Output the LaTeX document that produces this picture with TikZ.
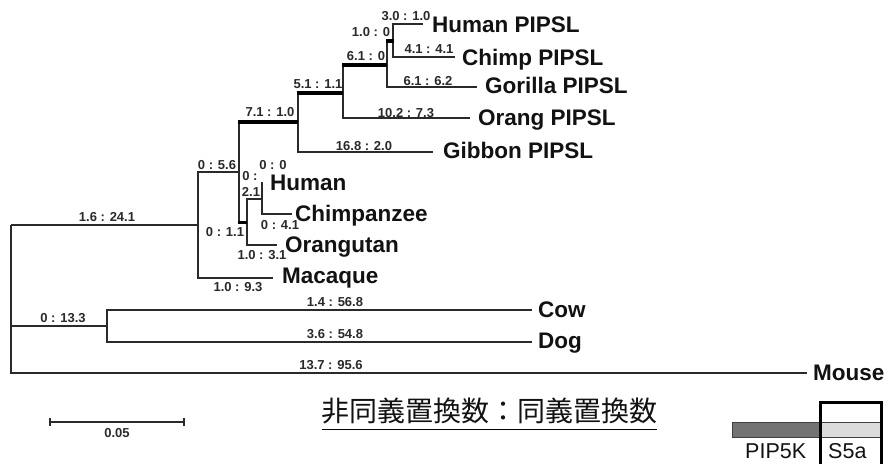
\documentclass[tikz,border=0pt]{standalone}
\usepackage{fontspec}
\setmainfont{Liberation Sans}
\newfontfamily\cjk{Noto Sans CJK JP}
\definecolor{lc}{HTML}{2A2A2A}
\definecolor{txt}{HTML}{121212}
\begin{document}
\begin{tikzpicture}[x=1pt,y=-1pt,
  br/.style={line width=1.5pt, draw=lc},
  thk/.style={line width=4.6pt, draw=black},
  mid/.style={line width=3pt, draw=black},
  bl/.style={font=\fontsize{13}{13}\selectfont\bfseries, text=lc, inner sep=0pt},
  lf/.style={font=\fontsize{22.5}{23}\selectfont\bfseries, anchor=base west, inner sep=0pt, text=txt},
  lg/.style={font=\fontsize{21.5}{22}\selectfont, anchor=base west, inner sep=0pt, text=txt}]
\useasboundingbox[fill=white] (0,0) rectangle (888,463);

% internal nodes (x of vertical, y of parent branch)
\coordinate (root) at (11,225);
\coordinate (G) at (198,225);
\coordinate (CD) at (107,326);
\coordinate (H) at (239,172);
\coordinate (D) at (298,122);
\coordinate (C) at (343,93);
\coordinate (B) at (387,65);
\coordinate (A) at (393,41);
\coordinate (F) at (247,222);
\coordinate (I) at (262,199);
% leaf ends
\coordinate (hP) at (423,24);
\coordinate (cP) at (455,57);
\coordinate (gP) at (477,87);
\coordinate (oP) at (470,118);
\coordinate (gbP) at (433,152);
\coordinate (hu) at (262,182);
\coordinate (ch) at (292,214);
\coordinate (or) at (277,245);
\coordinate (mac) at (273,278);
\coordinate (cow) at (532,310);
\coordinate (dog) at (532,342);
\coordinate (mouse) at (807,373);

% branches
\draw[br] (root) -- (G);
\draw[br] (root) |- (CD);
\draw[br] (root) |- (mouse);
\draw[br] (CD) |- (cow);
\draw[br] (CD) |- (dog);
\draw[br] (G) |- (H);
\draw[br] (G) |- (mac);
\draw[br] (H) |- (D);
\draw[br] (H) |- (F);
\draw[br] (F) |- (I);
\draw[br] (F) |- (or);
\draw[br] (I) |- (hu);
\draw[br] (I) |- (ch);
\draw[br] (D) |- (C);
\draw[br] (D) |- (gbP);
\draw[br] (C) |- (B);
\draw[br] (C) |- (oP);
\draw[br] (B) |- (A);
\draw[br] (B) |- (gP);
\draw[br] (A) |- (hP);
\draw[br] (A) |- (cP);
% thick branches
\draw[thk] ([xshift=-0.75pt]H |- D) -- (D);
\draw[thk] ([xshift=-0.75pt]D |- C) -- (C);
\draw[thk] ([xshift=-0.75pt]C |- B) -- (B);
\draw[thk] ([xshift=-0.75pt]B |- A) -- ([xshift=0.75pt]A);
\draw[mid] ([xshift=-0.75pt]H |- F) -- (F);

% branch labels
\node[bl] (l1) at (406,16) {3.0 : 1.0};
\node[bl] (l2) at (371,32) {1.0 : 0};
\node[bl] (l3) at (429,49) {4.1 : 4.1};
\node[bl] (l4) at (366,56) {6.1 : 0};
\node[bl] (l5) at (428,81) {6.1 : 6.2};
\node[bl] (l6) at (318,84) {5.1 : 1.1};
\node[bl] (l7) at (406,113) {10.2 : 7.3};
\node[bl] (l8) at (270,112) {7.1 : 1.0};
\node[bl] (l9) at (364,146) {16.8 : 2.0};
\node[bl] (l10) at (217,165) {0 : 5.6};
\node[bl] (l11) at (273,165) {0 : 0};
\node[bl] (l12) at (250,176) {0 :};
\node[bl] (l13) at (251,192) {2.1};
\node[bl] (l14) at (280,225) {0 : 4.1};
\node[bl] (l15) at (225,232) {0 : 1.1};
\node[bl] (l16) at (262,255) {1.0 : 3.1};
\node[bl] (l17) at (238,287) {1.0 : 9.3};
\node[bl] (l18) at (107,217) {1.6 : 24.1};
\node[bl] (l19) at (63,318) {0 : 13.3};
\node[bl] (l20) at (335,302) {1.4 : 56.8};
\node[bl] (l21) at (335,334) {3.6 : 54.8};
\node[bl] (l22) at (331,365) {13.7 : 95.6};

% leaf labels
\node[lf] (t1) at (432,32) {Human PIPSL};
\node[lf] (t2) at (462,65) {Chimp PIPSL};
\node[lf] (t3) at (485,93) {Gorilla PIPSL};
\node[lf] (t4) at (478,125) {Orang PIPSL};
\node[lf] (t5) at (443,158) {Gibbon PIPSL};
\node[lf] (t6) at (270,190) {Human};
\node[lf] (t7) at (295,221) {Chimpanzee};
\node[lf] (t8) at (285,252) {Orangutan};
\node[lf] (t9) at (282,283) {Macaque};
\node[lf] (t10) at (538,317) {Cow};
\node[lf] (t11) at (538,348) {Dog};
\node[lf] (t12) at (813,380) {Mouse};

% scale bar
\coordinate (s1) at (50,422);
\coordinate (s2) at (184,422);
\draw[br] (s1) -- (s2);
\draw[br] ([yshift=-4pt]s1) -- ([yshift=4pt]s1);
\draw[br] ([yshift=-4pt]s2) -- ([yshift=4pt]s2);
\node[bl] (sl) at (117,433) {0.05};

% caption
\node[font=\cjk\fontsize{28}{28}\selectfont, inner sep=0pt, text=txt] (cap) at (489.5,411) {非同義置換数：同義置換数};
\draw[line width=1.8pt, black] (322,429.5) -- (657,429.5);

% legend
\draw[fill=black!55, draw=black!75, line width=0.8pt] (732,422) rectangle (820,437);
\draw[fill=black!14, draw=black!75, line width=0.8pt] (820,422) rectangle (880,437);
\draw[line width=3pt, black] (820,470) -- (820,402) -- (881,402) -- (881,470);
\node[lg] (p1) at (745,458) {PIP5K};
\node[lg] (p2) at (828,458) {S5a};
\end{tikzpicture}
\end{document}
